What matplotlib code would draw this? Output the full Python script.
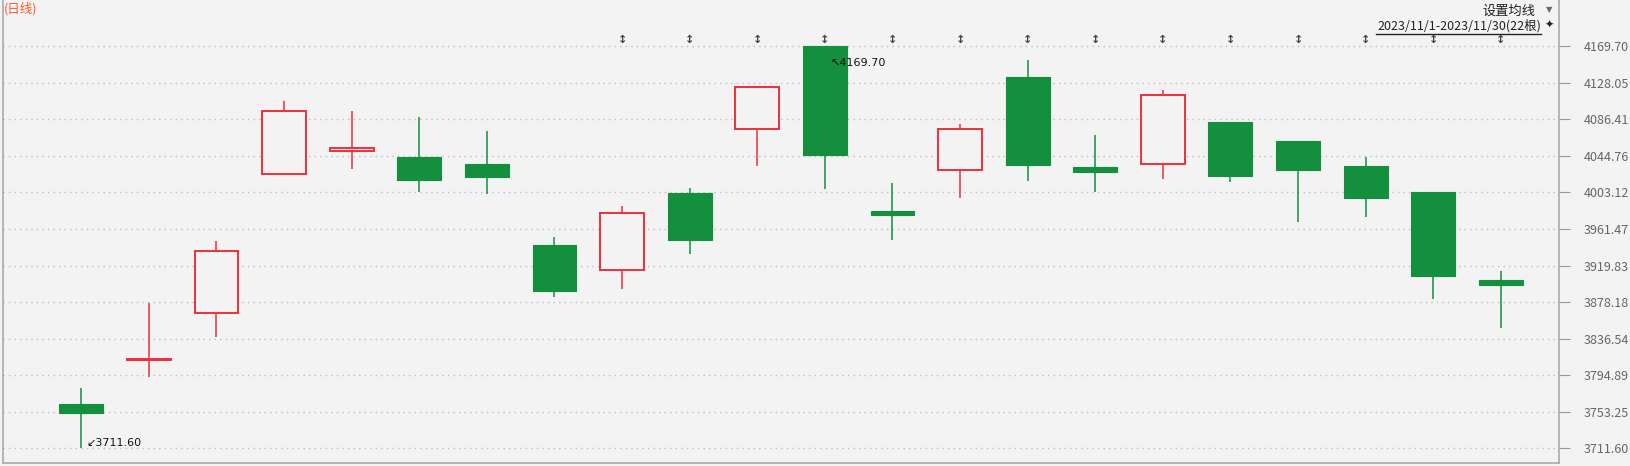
import matplotlib
matplotlib.use("Agg")
import matplotlib.pyplot as plt

plt.rcParams['font.family'] = ['Noto Sans CJK SC', 'DejaVu Sans']

# daily candles for 2023/11/1 - 2023/11/30 (22 bars)
opens = [3762.1, 3812.0, 3865.4, 4023.8, 4050.7, 4043.5, 4035.6, 3943.3, 3914.4, 4002.5, 4075.8,
         4169.7, 3982.0, 4028.4, 4134.7, 4032.1, 4035.2, 4083.4, 4061.8, 4033.3, 4003.6, 3903.4]
highs = [3780.3, 3877.2, 3947.5, 4107.3, 4095.9, 4089.1, 4073.2, 3952.4, 3987.7, 4008.2, 4122.9,
         4169.7, 4013.9, 4081.1, 4154.1, 4068.6, 4119.9, 4083.4, 4061.8, 4043.5, 4003.6, 3913.6]
lows = [3711.6, 3792.5, 3838.8, 4023.0, 4030.2, 4003.6, 4001.7, 3884.3, 3893.5, 3933.3, 4033.6,
        4007.4, 3949.0, 3997.2, 4016.5, 4003.6, 4018.8, 4015.4, 3969.5, 3975.2, 3881.7, 3848.7]
closes = [3752.2, 3813.0, 3936.1, 4095.6, 4053.5, 4017.3, 4020.7, 3891.2, 3979.4, 3949.0, 4122.9,
          4045.8, 3977.8, 4075.1, 4034.4, 4026.8, 4113.8, 4022.2, 4028.7, 3996.8, 3907.9, 3897.7]

price_ticks = [3711.60, 3753.25, 3794.89, 3836.54, 3878.18, 3919.83, 3961.47,
               4003.12, 4044.76, 4086.41, 4128.05, 4169.70]
marker_bars = list(range(8, 22))  # small markers above these bars

UP = '#ee2f3b'
DOWN = '#138f3d'
BG = '#f3f3f3'

fig = plt.figure(figsize=(16.31, 4.66), dpi=100, facecolor=BG)
ax = fig.add_axes([3 / 1631, 3 / 466, 1556 / 1631, 463 / 466], facecolor=BG)

n = len(opens)
width = 0.65
for i in range(n):
    o, h, l, c = opens[i], highs[i], lows[i], closes[i]
    up = c >= o
    color = UP if up else DOWN
    # wick
    ax.vlines(i, l, h, color=color, linewidth=1.1, zorder=2)
    # body
    bottom = min(o, c)
    height = max(abs(c - o), 0.6)
    if up:
        ax.bar(i, height, width=width, bottom=bottom, facecolor=BG, edgecolor=color,
               linewidth=1.4, zorder=3)
    else:
        ax.bar(i, height, width=width, bottom=bottom, facecolor=color, edgecolor=color,
               linewidth=0.8, zorder=3)

# max / min labels
hi_idx = highs.index(max(highs))
lo_idx = lows.index(min(lows))
ax.annotate(f'↖{max(highs):.2f}', (hi_idx, max(highs)), xytext=(4, -14),
            textcoords='offset points', fontsize=8, color='#111111',
            family=['DejaVu Sans'])
ax.annotate(f'↙{min(lows):.2f}', (lo_idx, min(lows)), xytext=(4, 0),
            textcoords='offset points', fontsize=8, color='#111111',
            family=['DejaVu Sans'], va='bottom')

# little markers above the bars
for i in marker_bars:
    ax.text(i, 4177, '↕', ha='center', va='center', fontsize=8, color='#444444',
            fontweight='bold', family=['DejaVu Sans'])

ax.set_xlim(-1.158, 21.86)
ax.set_ylim(3694.85, 4222.4)

ax.set_yticks(price_ticks)
ax.set_yticklabels([f'{t:.2f}' for t in price_ticks])
ax.yaxis.tick_right()
ax.tick_params(axis='y', length=8, width=0.8, color='#999999', labelcolor='#666666',
               labelsize=9, pad=10)
ax.set_xticks([])
ax.grid(axis='y', linestyle=(0, (1, 3)), color='#bdbdbd', linewidth=1)

ax.spines['top'].set_visible(False)
for side in ['left', 'right', 'bottom']:
    ax.spines[side].set_color('#aaaaaa')
    ax.spines[side].set_linewidth(1.2)

# header texts
fig.text(4 / 1631, 1 - 9 / 466, '(日线)', color='#ff5a2a', fontsize=9, va='center', ha='left')
fig.text(1535 / 1631, 1 - 11 / 466, '设置均线', color='#222222', fontsize=9.5, va='center', ha='right')
fig.text(1549 / 1631, 1 - 10 / 466, '▼', color='#666666', fontsize=6, va='center', ha='center',
         family=['DejaVu Sans'])
fig.text(1541 / 1631, 1 - 26 / 466, '2023/11/1-2023/11/30(22根)', color='#222222', fontsize=9,
         va='center', ha='right')
fig.add_artist(plt.Line2D([1376 / 1631, 1541 / 1631], [1 - 34 / 466, 1 - 34 / 466],
                          color='#222222', linewidth=1, transform=fig.transFigure))
fig.text(1549 / 1631, 1 - 25 / 466, '✦', color='#222222', fontsize=8, va='center', ha='center',
         family=['DejaVu Sans'])

fig.savefig('out.png', dpi=100, facecolor=BG)
